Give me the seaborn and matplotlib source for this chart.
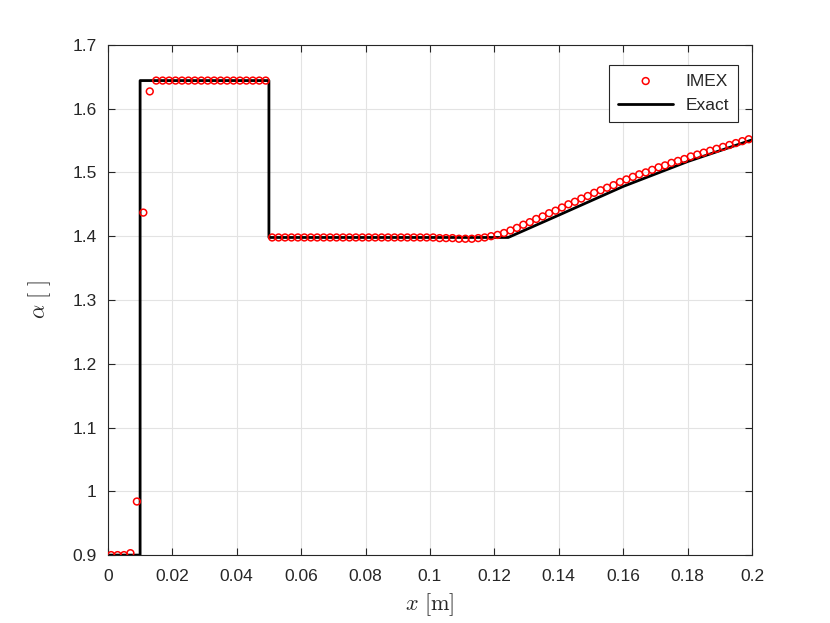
import matplotlib
matplotlib.use('Agg')
import matplotlib.pyplot as plt
import seaborn as sns
import pandas as pd
from matplotlib.ticker import FuncFormatter

# cell centres of the IMEX run
x_imex = [
    0.001, 0.003, 0.005, 0.007, 0.009, 0.011, 0.013, 0.015, 0.017, 0.019,
    0.021, 0.023, 0.025, 0.027, 0.029, 0.031, 0.033, 0.035, 0.037, 0.039,
    0.041, 0.043, 0.045, 0.047, 0.049, 0.051, 0.053, 0.055, 0.057, 0.059,
    0.061, 0.063, 0.065, 0.067, 0.069, 0.071, 0.073, 0.075, 0.077, 0.079,
    0.081, 0.083, 0.085, 0.087, 0.089, 0.091, 0.093, 0.095, 0.097, 0.099,
    0.101, 0.103, 0.105, 0.107, 0.109, 0.111, 0.113, 0.115, 0.117, 0.119,
    0.121, 0.123, 0.125, 0.127, 0.129, 0.131, 0.133, 0.135, 0.137, 0.139,
    0.141, 0.143, 0.145, 0.147, 0.149, 0.151, 0.153, 0.155, 0.157, 0.159,
    0.161, 0.163, 0.165, 0.167, 0.169, 0.171, 0.173, 0.175, 0.177, 0.179,
    0.181, 0.183, 0.185, 0.187, 0.189, 0.191, 0.193, 0.195, 0.197, 0.199,
]
alpha_imex = [
    0.900, 0.900, 0.900, 0.903, 0.984, 1.437, 1.627, 1.644, 1.644, 1.644,
    1.644, 1.644, 1.644, 1.644, 1.644, 1.644, 1.644, 1.644, 1.644, 1.644,
    1.644, 1.644, 1.644, 1.644, 1.644, 1.398, 1.398, 1.398, 1.398, 1.398,
    1.398, 1.398, 1.398, 1.398, 1.398, 1.398, 1.398, 1.398, 1.398, 1.398,
    1.398, 1.398, 1.398, 1.398, 1.398, 1.398, 1.398, 1.398, 1.398, 1.398,
    1.398, 1.397, 1.397, 1.397, 1.396, 1.396, 1.396, 1.397, 1.398, 1.400,
    1.402, 1.405, 1.409, 1.413, 1.418, 1.422, 1.427, 1.431, 1.436, 1.440,
    1.445, 1.450, 1.454, 1.459, 1.463, 1.468, 1.472, 1.476, 1.480, 1.485,
    1.489, 1.493, 1.497, 1.500, 1.504, 1.508, 1.511, 1.515, 1.518, 1.521,
    1.525, 1.528, 1.531, 1.534, 1.537, 1.540, 1.543, 1.546, 1.549, 1.552,
]

# exact solution (piecewise)
x_exact = [0.0, 0.01, 0.01, 0.05, 0.05, 0.1243, 0.14, 0.16, 0.18, 0.2]
alpha_exact = [0.9, 0.9, 1.644, 1.644, 1.398, 1.398, 1.433, 1.478, 1.517, 1.551]

x_ticks = [0, 0.02, 0.04, 0.06, 0.08, 0.1, 0.12, 0.14, 0.16, 0.18, 0.2]
y_ticks = [0.9, 1.0, 1.1, 1.2, 1.3, 1.4, 1.5, 1.6, 1.7]

df_imex = pd.DataFrame({'x': x_imex, 'alpha': alpha_imex})
df_exact = pd.DataFrame({'x': x_exact, 'alpha': alpha_exact})

sns.set_style('whitegrid')
plt.rcParams['font.family'] = ['Liberation Sans', 'DejaVu Sans']
plt.rcParams['mathtext.fontset'] = 'cm'

fig = plt.figure(figsize=(8.3, 6.23), dpi=100)
ax = fig.add_axes([0.130, 0.109, 0.776, 0.819])

sns.scatterplot(data=df_imex, x='x', y='alpha', ax=ax, marker='o', s=24,
                facecolors='none', edgecolor='#ff0000', linewidth=1.1,
                label='IMEX', zorder=3)
sns.lineplot(data=df_exact, x='x', y='alpha', ax=ax, color='black',
             linewidth=2.0, sort=False, estimator=None, label='Exact', zorder=2)

ax.set_xlim(0, 0.2)
ax.set_ylim(0.9, 1.7)
ax.set_xticks(x_ticks)
ax.set_yticks(y_ticks)
ax.xaxis.set_major_formatter(FuncFormatter(lambda v, p: f'{v:g}'))
ax.yaxis.set_major_formatter(FuncFormatter(lambda v, p: f'{v:g}'))

ax.grid(True, color='#e3e3e3', linewidth=0.8)
for s in ax.spines.values():
    s.set_visible(True)
    s.set_color('#262626')
    s.set_linewidth(0.8)
ax.tick_params(direction='in', length=5, width=0.8, colors='#262626',
               labelsize=12.5, top=True, right=True, bottom=True, left=True,
               labeltop=False, labelright=False)
ax.tick_params(axis='x', pad=10)
ax.tick_params(axis='y', pad=8)

ax.set_xlabel(r'$x\ [\mathrm{m}]$', fontsize=16, color='#262626', labelpad=5)
ax.set_ylabel(r'$\alpha\ [\ ]$', fontsize=16, color='#262626', labelpad=14)

leg = ax.legend(loc='upper right', bbox_to_anchor=(0.978, 0.961), borderaxespad=0,
                fontsize=12.5, frameon=True, fancybox=False, framealpha=1,
                edgecolor='#262626', borderpad=0.5, handlelength=3.2,
                labelspacing=0.55, handletextpad=0.7)
leg.get_frame().set_linewidth(0.8)

fig.savefig('out.png', dpi=100)
